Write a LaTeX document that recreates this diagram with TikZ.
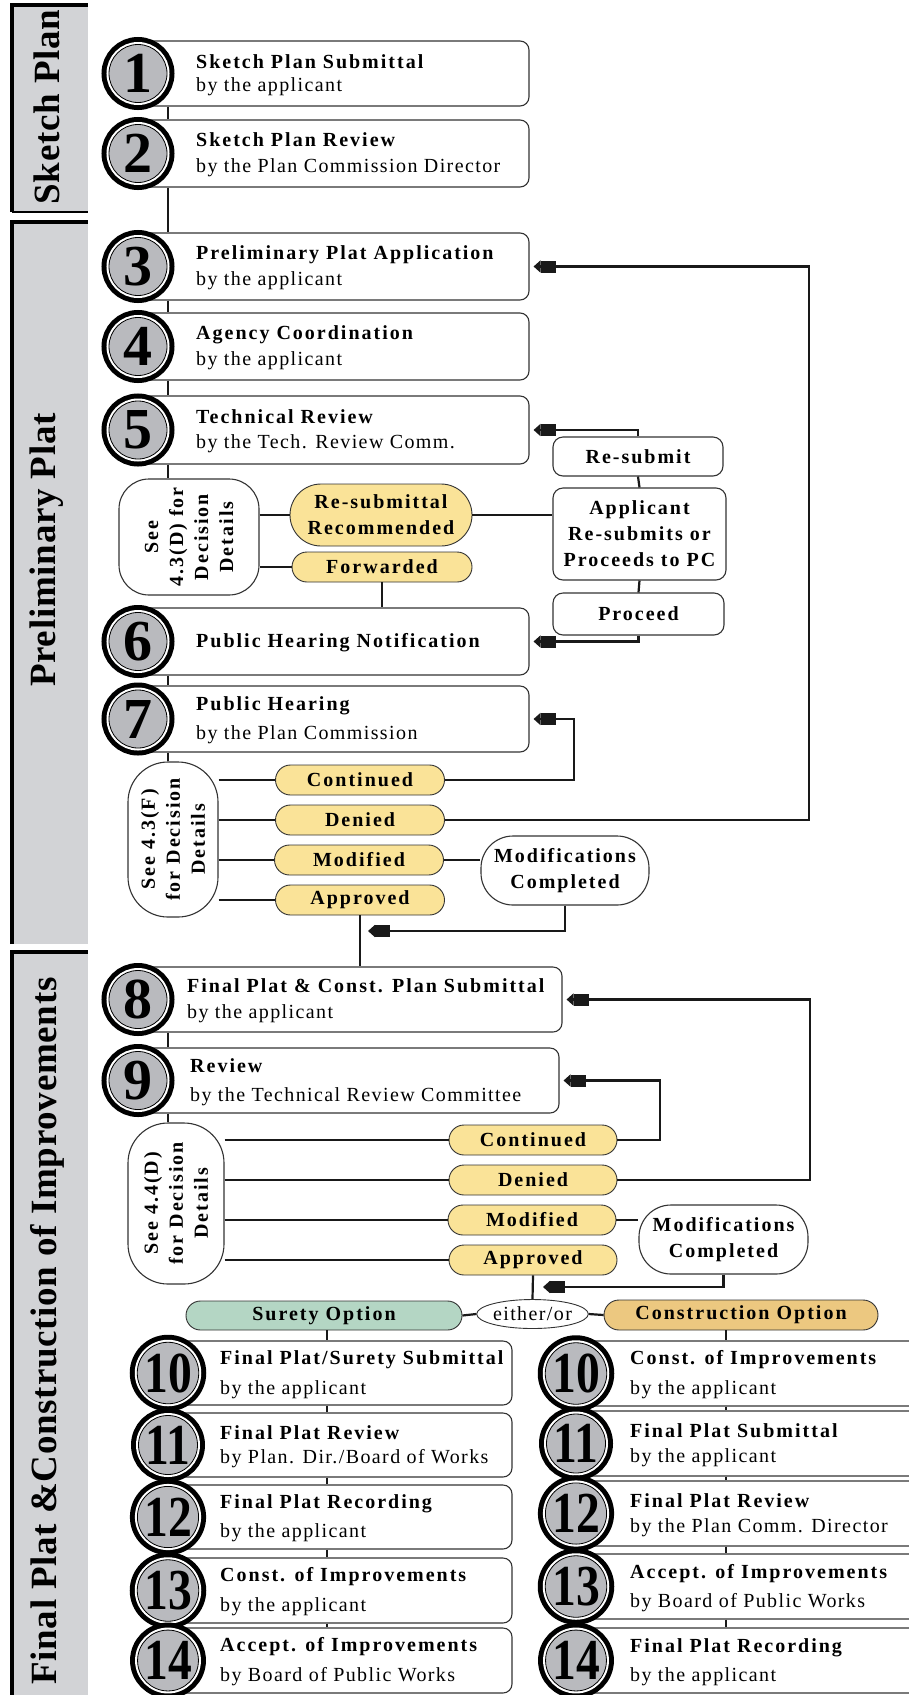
\documentclass[tikz,border=0pt]{standalone}
\usepackage{fontspec}
\setmainfont{Liberation Serif}
\newfontfamily\fTi[LetterSpace=10]{Liberation Serif}
\newfontfamily\fSu[LetterSpace=7]{Liberation Serif}
\newfontfamily\fBa[LetterSpace=2]{Liberation Serif}
\newfontfamily\fNa[FakeStretch=0.82]{Liberation Serif}
\usetikzlibrary{arrows.meta,shapes.misc,shapes.geometric,fit,calc}
\definecolor{bargray}{HTML}{D2D3D6}
\definecolor{circgray}{HTML}{B9BABE}
\definecolor{yel}{HTML}{FAE398}
\definecolor{grn}{HTML}{B4D6C4}
\definecolor{org}{HTML}{ECC880}
\definecolor{edge}{HTML}{333333}
\newcommand\tita{\fTi\bfseries}
\newcommand\subta{\fSu\mdseries}
\def\lsp{26}
\tikzset{
  stepbox/.style={draw=edge, line width=1.1, rounded corners=9, fill=white, inner sep=0pt, fit={#1}},
  numc/.style={circle, minimum size=58, inner sep=0pt, fill=circgray, draw=black, line width=0.8,
    preaction={draw=black,line width=15}, preaction={draw=white,line width=5},
    font=\fontsize{58}{58}\selectfont\bfseries},
  steptxt/.style={anchor=base west, inner sep=0pt, font=\fontsize{20}{24}\selectfont},
  conline/.style={draw=black!90, line width=2.2},
  arrowhd/.style={-{Square[length=15pt,width=12pt]Triangle[length=7pt,width=12pt]}},
  decbox/.style={rounded rectangle, draw=edge, line width=0.9, fill=yel, minimum width=169,
    minimum height=30, inner sep=0pt, font=\fontsize{20}{26}\selectfont\fTi\bfseries},
  sidebox/.style={draw=edge, line width=1.1, rounded corners=10, fill=white, inner sep=0pt,
    align=center, font=\fontsize{20}{26}\selectfont\fTi\bfseries},
  seebox/.style={draw=edge, line width=1.1, fill=white, inner sep=0pt, fit={#1}},
  rottxt/.style={rotate=90, align=center, inner sep=0pt, font=\fontsize{20}{25}\selectfont\fTi\bfseries},
  barlab/.style={rotate=90, inner sep=0pt, font=\fontsize{37}{37}\selectfont\fBa\bfseries},
  barline/.style={line width=4},
}
% name, circle x, top, bottom, right, number, text x, title, subtitle
\newcommand\mystep[9]{%
  \node[stepbox={(#2,#3) (#5,#4)}] (#1) {};
  \node[numc] (#1n) at (#2,{(#3+#4)/2}) {#6};
  \node[steptxt] (#1t) at (#7,{(#3+#4)/2-\lsp/2+6}) {\tita #8};
  \node[steptxt] (#1s) at (#7,{(#3+#4)/2+\lsp/2+6}) {\subta #9};
}
\newcommand\two[1]{{\fNa\bfseries #1}}
\begin{document}
\begin{tikzpicture}[x=1pt,y=-1pt]
\useasboundingbox (0,0) rectangle (909,1695);
\fill[white] (0,0) rectangle (909,1695);

% section bars
\fill[bargray] (12,5) rectangle (88,212);
\draw[barline] (12,212) -- (12,5) -- (88,5);
\draw[line width=2.5] (12,212) -- (88,212);
\fill[bargray] (12,222) rectangle (88,944);
\draw[barline] (12,944) -- (12,222) -- (88,222);
\fill[bargray] (12,952) rectangle (88,1700);
\draw[barline] (12,1700) -- (12,952) -- (88,952);
\node[barlab] (barS) at (47,107) {Sketch Plan};
\node[barlab] (barP) at (47,550) {Preliminary Plat};
\node[barlab] (barF) at (47,1331) {Final Plat \&Construction of Improvements};

% main steps
\def\lsp{23}
\mystep{b1}{138}{41}{106}{529}{1}{196}{Sketch Plan Submittal}{by the applicant}
\def\lsp{26}
\mystep{b2}{138}{120}{187}{529}{2}{196}{Sketch Plan Review}{by the Plan Commission Director}
\mystep{b3}{138}{233}{300}{529}{3}{196}{Preliminary Plat Application}{by the applicant}
\mystep{b4}{138}{313}{380}{529}{4}{196}{Agency Coordination}{by the applicant}
\def\lsp{25}
\mystep{b5}{138}{396}{464}{529}{5}{196}{Technical Review}{by the Tech. Review Comm.}
\node[stepbox={(138,608) (529,675)}] (b6) {};
\node[numc] (b6n) at (138,641.5) {6};
\node[steptxt] (b6t) at (196,647.5) {\tita Public Hearing Notification};
\def\lsp{29}
\mystep{b7}{138}{686}{752}{529}{7}{196}{Public Hearing}{by the Plan Commission}
\def\lsp{26}
\mystep{b8}{138}{967}{1032}{562}{8}{187}{Final Plat \& Const. Plan Submittal}{by the applicant}
\def\lsp{29}
\mystep{b9}{138}{1048}{1113}{559}{9}{190}{Review}{by the Technical Review Committee}

% technical review decision
\node[seebox={(119,479) (259,595)}, rounded corners=30] (seeD) {};
\node[rottxt] (seeDt) at (seeD.center) {See\\4.3(D) for\\Decision\\Details};
\node[decbox, minimum width=182, minimum height=62, align=center] (resub) at (381,515) {Re-submittal\\Recommended};
\node[decbox, minimum width=180] (fwd) at (382,567) {Forwarded};
\node[sidebox, minimum width=170, minimum height=39] (rsb) at (638,456.5) {Re-submit};
\node[sidebox, minimum width=173, minimum height=92] (appl) at (639.5,534) {Applicant\\Re-submits or\\Proceeds to PC};
\node[sidebox, minimum width=171, minimum height=42] (proc) at (638.5,614) {Proceed};

% public hearing decision
\node[seebox={(128,762) (218,917)}, rounded corners=40] (seeF) {};
\node[rottxt] (seeFt) at (seeF.center) {See 4.3(F)\\for Decision\\Details};
\node[decbox] (contF) at (360,780) {Continued};
\node[decbox] (denF) at (360,820) {Denied};
\node[decbox] (modF) at (359,860) {Modified};
\node[decbox] (appF) at (360,900) {Approved};
\node[sidebox, rounded corners=32, minimum width=168, minimum height=69] (mcF) at (565,870.5) {Modifications\\Completed};

% final review decision
\node[seebox={(128,1123) (224,1284)}, rounded corners=40] (seeG) {};
\node[rottxt] (seeGt) at (seeG.center) {See 4.4(D)\\for Decision\\Details};
\node[decbox, minimum width=168] (contG) at (533,1140) {Continued};
\node[decbox, minimum width=168] (denG) at (533,1180) {Denied};
\node[decbox, minimum width=168] (modG) at (532,1220) {Modified};
\node[decbox, minimum width=168] (appG) at (533,1260) {Approved};
\node[sidebox, rounded corners=32, minimum width=169, minimum height=69] (mcG) at (723.5,1239.5) {Modifications\\Completed};

% options
\node[decbox, fill=grn, minimum width=276, minimum height=29] (sur) at (324,1315.5) {Surety Option};
\node[ellipse, draw=edge, line width=0.9, fill=white, minimum width=109, minimum height=29, inner sep=0pt,
  font=\fontsize{20}{24}\selectfont\fSu] (eo) at (532.5,1314) {either/or};
\node[decbox, fill=org, minimum width=274] (con) at (741,1315) {Construction Option};

% surety column
\def\lsp{30}
\mystep{L10}{168}{1341}{1405}{512}{\two{10}}{220}{Final Plat/Surety Submittal}{by the applicant}
\def\lsp{24}
\mystep{L11}{168}{1413}{1477}{512}{\two{11}}{220}{Final Plat Review}{by Plan. Dir./Board of Works}
\def\lsp{29}
\mystep{L12}{168}{1485}{1549}{512}{\two{12}}{220}{Final Plat Recording}{by the applicant}
\def\lsp{30}
\mystep{L13}{168}{1558}{1623}{512}{\two{13}}{220}{Const. of Improvements}{by the applicant}
\mystep{L14}{168}{1628}{1693}{512}{\two{14}}{220}{Accept. of Improvements}{by Board of Public Works}

% construction column
\def\lsp{30}
\mystep{R10}{576}{1341}{1406}{930}{\two{10}}{630}{Const. of Improvements}{by the applicant}
\def\lsp{25}
\mystep{R11}{576}{1411}{1476}{930}{\two{11}}{630}{Final Plat Submittal}{by the applicant}
\mystep{R12}{576}{1481}{1546}{930}{\two{12}}{630}{Final Plat Review}{by the Plan Comm. Director}
\def\lsp{29}
\mystep{R13}{576}{1554}{1619}{930}{\two{13}}{630}{Accept. of Improvements}{by Board of Public Works}
\mystep{R14}{576}{1628}{1693}{930}{\two{14}}{630}{Final Plat Recording}{by the applicant}

% ---------- connectors ----------
\coordinate (sp) at (168,0);
\foreach \p/\q in {b1/b2,b2/b3,b3/b4,b4/b5,b5/seeD,b6/b7,b7/seeF,b8/b9,b9/seeG}
  \draw[conline] (\p.south -| sp) -- (\q.north -| sp);

\draw[conline] (resub.west -| seeD.east) -- (resub.west);
\draw[conline] (fwd.west -| seeD.east) -- (fwd.west);
\draw[conline] (resub.east) -- (resub.east -| appl.west);
\draw[conline] (rsb.south) -- (appl.north);
\draw[conline] (appl.south) -- (proc.north);
\draw[conline] (fwd.south) -- (fwd.south |- b6.north);
\coordinate (a3) at ($(b3.east)+(4,0)$);
\coordinate (a5) at ($(b5.east)+(4,0)$);
\coordinate (a6) at ($(b6.east)+(4,0)$);
\coordinate (a7) at ($(b7.east)+(4,0)$);
\coordinate (a8) at ($(b8.east)+(4,0)$);
\coordinate (a9) at ($(b9.east)+(4,0)$);
\draw[conline,arrowhd] (rsb.north) |- (a5);
\draw[conline,arrowhd] (proc.south) |- (a6);

\foreach \n in {contF,denF,modF,appF}
  \draw[conline] (\n.west -| seeF.east) -- (\n.west);
\coordinate (xC7) at (574,0);
\coordinate (xD7) at (809,0);
\draw[conline,arrowhd] (contF.east) -- (contF.east -| xC7) |- (a7);
\draw[conline,arrowhd] (denF.east) -- (denF.east -| xD7) |- (a3);
\draw[conline] (modF.east) -- (modF.east -| mcF.west);
\coordinate (m7) at (368,931);
\draw[conline,arrowhd] (mcF.south) |- (m7);
\draw[conline] (appF.south) -- (appF.south |- b8.north);

\foreach \n in {contG,denG,modG,appG}
  \draw[conline] (\n.west -| seeG.east) -- (\n.west);
\coordinate (xC9) at (660,0);
\coordinate (xD9) at (810,0);
\draw[conline,arrowhd] (contG.east) -- (contG.east -| xC9) |- (a9);
\draw[conline,arrowhd] (denG.east) -- (denG.east -| xD9) |- (a8);
\draw[conline] (modG.east) -- (modG.east -| mcG.west);
\coordinate (m9) at (543,1287);
\draw[conline,arrowhd] (mcG.south) |- (m9);
\draw[conline] (appG.south) -- (eo.north);
\draw[conline] (sur.east) -- (eo.west);
\draw[conline] (eo.east) -- (con.west);

\coordinate (lc) at (327,0);
\coordinate (rc) at (726,0);
\draw[conline] (sur.south -| lc) -- (L10.north -| lc);
\draw[conline] (con.south -| rc) -- (R10.north -| rc);
\foreach \p/\q in {L10/L11,L11/L12,L12/L13,L13/L14}
  \draw[conline] (\p.south -| lc) -- (\q.north -| lc);
\foreach \p/\q in {R10/R11,R11/R12,R12/R13,R13/R14}
  \draw[conline] (\p.south -| rc) -- (\q.north -| rc);
\end{tikzpicture}
\end{document}
